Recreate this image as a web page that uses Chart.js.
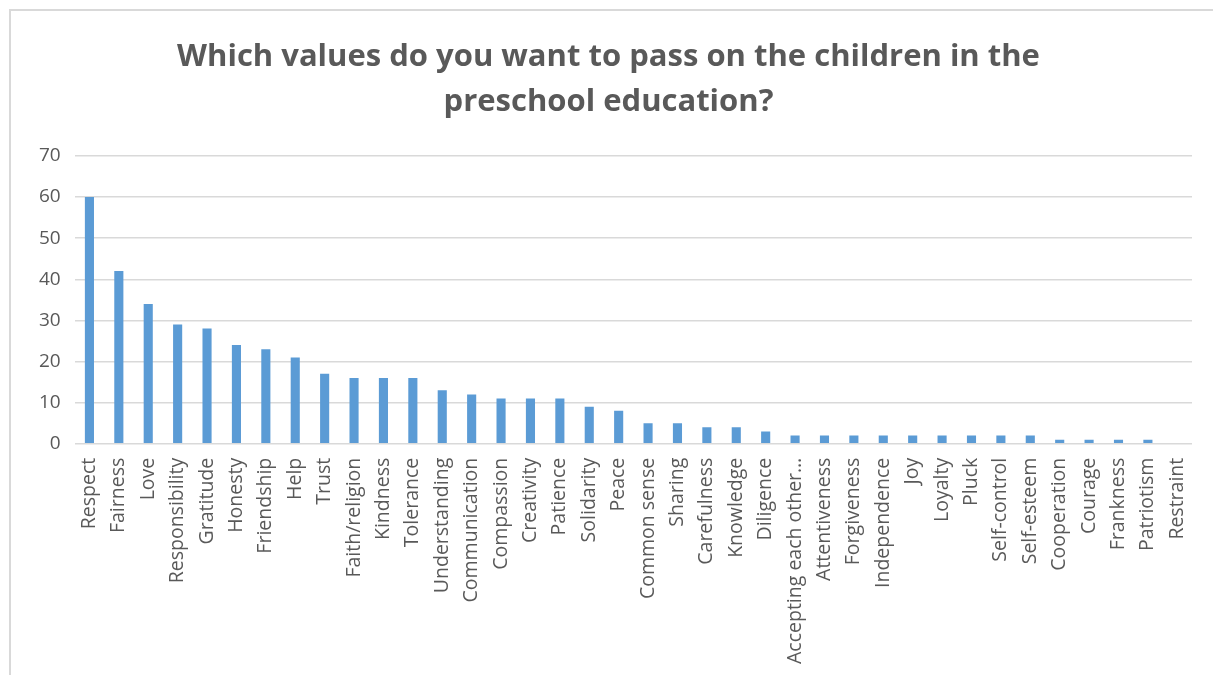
<!DOCTYPE html>
<html lang="en">
<head>
    <meta charset="UTF-8">
    <title>Values for preschool education</title>
    <script src="https://cdnjs.cloudflare.com/ajax/libs/Chart.js/4.4.0/chart.umd.min.js"></script>
    <style>
        body {
            margin: 0;
            background: #fff;
            font-family: "Open Sans", Arial, sans-serif;
        }
        .frame {
            position: absolute;
            left: 9px;
            top: 9px;
            width: 1204px;
            height: 666px;
            border-left: 2px solid #d9d9d9;
            border-top: 2px solid #d9d9d9;
            box-sizing: border-box;
        }
        #valuesChart {
            display: block;
        }
    </style>
</head>
<body>
    <div class="frame">
        <canvas id="valuesChart" width="1202" height="664"></canvas>
    </div>

    <script>
        const values = [
            'Respect', 'Fairness', 'Love', 'Responsibility', 'Gratitude', 'Honesty',
            'Friendship', 'Help', 'Trust', 'Faith/religion', 'Kindness', 'Tolerance',
            'Understanding', 'Communication', 'Compassion', 'Creativity', 'Patience',
            'Solidarity', 'Peace', 'Common sense', 'Sharing', 'Carefulness', 'Knowledge',
            'Diligence', 'Accepting each other…', 'Attentiveness', 'Forgiveness',
            'Independence', 'Joy', 'Loyalty', 'Pluck', 'Self-control', 'Self-esteem',
            'Cooperation', 'Courage', 'Frankness', 'Patriotism', 'Restraint'
        ];
        const answers = [
            60, 42, 34, 29, 28, 24, 23, 21, 17, 16, 16, 16, 13, 12, 11, 11, 11,
            9, 8, 5, 5, 4, 4, 3, 2, 2, 2, 2, 2, 2, 2, 2, 2, 1, 1, 1, 1, 0
        ];
        const yTicks = [0, 10, 20, 30, 40, 50, 60, 70];
        const chartTitle = ['Which values do you want to pass on the children in the', 'preschool education?'];

        const textGrey = '#595959';
        const gridGrey = '#d9d9d9';

        new Chart(document.getElementById('valuesChart'), {
            type: 'bar',
            data: {
                labels: values,
                datasets: [{
                    label: 'Answers',
                    data: answers,
                    backgroundColor: '#5b9bd5',
                    borderWidth: 0,
                    categoryPercentage: 1,
                    barPercentage: 0.31
                }]
            },
            options: {
                responsive: false,
                animation: false,
                layout: {
                    padding: { left: 14, right: 21, top: 24, bottom: 5 }
                },
                plugins: {
                    legend: { display: false },
                    tooltip: { enabled: false },
                    title: {
                        display: true,
                        text: chartTitle,
                        color: textGrey,
                        font: { family: 'Open Sans', size: 31, weight: 'bold', lineHeight: 1.45 },
                        padding: { top: 0, bottom: 31 }
                    }
                },
                scales: {
                    x: {
                        grid: { display: false },
                        border: { display: false },
                        ticks: {
                            color: textGrey,
                            font: { family: 'Open Sans', size: 19.5 },
                            maxRotation: 90,
                            minRotation: 90,
                            autoSkip: false,
                            padding: 6
                        }
                    },
                    y: {
                        min: 0,
                        max: 70,
                        afterBuildTicks: axis => {
                            axis.ticks = yTicks.map(v => ({ value: v }));
                        },
                        grid: {
                            color: gridGrey,
                            lineWidth: 1.5,
                            drawTicks: false
                        },
                        border: { display: false },
                        ticks: {
                            color: textGrey,
                            font: { family: 'Open Sans', size: 19 },
                            padding: 14
                        }
                    }
                }
            }
        });
    </script>
</body>
</html>
